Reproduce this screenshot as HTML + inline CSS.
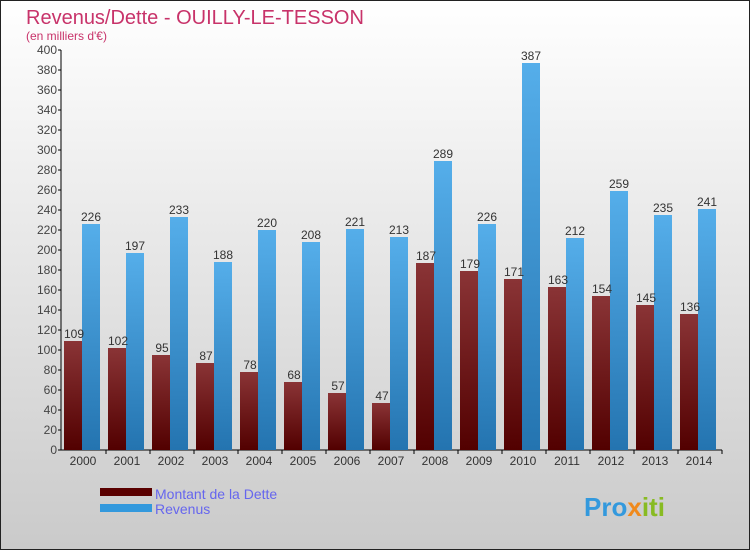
<!DOCTYPE html>
<html><head><meta charset="utf-8"><style>
body{margin:0}
#c{width:750px;height:550px;position:relative;font-family:"Liberation Sans",sans-serif}
</style></head><body>
<div id="c">
<svg id="s" width="750" height="550" xmlns="http://www.w3.org/2000/svg">
<defs>
<linearGradient id="bg" x1="0" y1="0" x2="0" y2="1"><stop offset="0" stop-color="#ffffff"/><stop offset="1" stop-color="#cacaca"/></linearGradient>
<linearGradient id="gd" x1="0" y1="0" x2="0" y2="1"><stop offset="0" stop-color="#8a3436"/><stop offset="1" stop-color="#520000"/></linearGradient>
<linearGradient id="gr" x1="0" y1="0" x2="0" y2="1"><stop offset="0" stop-color="#55aeea"/><stop offset="1" stop-color="#2474b0"/></linearGradient>
</defs>
<rect x="0.5" y="0.5" width="749" height="549" fill="url(#bg)" stroke="#222"/>
<text x="26" y="24" font-size="20" fill="#c8336a">Revenus/Dette - OUILLY-LE-TESSON</text>
<text x="26" y="40" font-size="12" fill="#c8336a">(en milliers d'€)</text>
<g id="axes"></g>
<g id="bars"></g>
<g>
<rect x="100" y="488" width="52" height="8" fill="#5a0000"/>
<text x="155" y="499" font-size="14" fill="#6666ee">Montant de la Dette</text>
<rect x="100" y="504" width="52" height="8" fill="#3399dd"/>
<text x="155" y="514" font-size="14" fill="#6666ee">Revenus</text>
</g>
<text x="584" y="516" font-size="26" font-weight="bold" fill="#3399dd">Pro<tspan fill="#f08a1c">x</tspan><tspan fill="#88bb22">iti</tspan></text>
</svg>
</div>
<script>
const years=["2000","2001","2002","2003","2004","2005","2006","2007","2008","2009","2010","2011","2012","2013","2014"];
const dette=[109,102,95,87,78,68,57,47,187,179,171,163,154,145,136];
const revenus=[226,197,233,188,220,208,221,213,289,226,387,212,259,235,241];
const ticks=[0,20,40,60,80,100,120,140,160,180,200,220,240,260,280,300,320,340,360,380,400];
const NS="http://www.w3.org/2000/svg";
const x0=62,gw=44,bw=18,y0=450,yMax=400,ph=400;
const y=v=>y0-v/yMax*ph;
const gx=i=>x0+i*gw;
function mk(t,a,p){const e=document.createElementNS(NS,t);for(const k in a)e.setAttribute(k,a[k]);p.appendChild(e);return e;}
const ax=document.getElementById('axes'),bs=document.getElementById('bars');
const yl=mk('line',{x1:x0-1,y1:y0,x2:x0-1,y2:y(400),stroke:'#000'},ax);


const xl=mk('line',{x1:x0-1,y1:y0,x2:x0+years.length*gw,y2:y0,stroke:'#000'},ax);


ticks.forEach(t=>{
 mk('line',{x1:x0-4,y1:y(t),x2:x0-1,y2:y(t),stroke:'#000'},ax);
 const tx=mk('text',{x:x0-5,y:y(t)+4,'font-size':12,'text-anchor':'end',fill:'#444'},ax);
 tx.textContent=t;
 
 
});
years.forEach((yr,i)=>{
 const cx=gx(i)+gw/2;
 mk('line',{x1:gx(i+1),y1:y0,x2:gx(i+1),y2:y0+4,stroke:'#000'},ax);
 const tx=mk('text',{x:cx-1,y:y0+15,'font-size':12,'text-anchor':'middle',fill:'#333'},ax);
 tx.textContent=yr;
 
 
 const b1=mk('rect',{x:gx(i)+2,y:y(dette[i]),width:bw,height:y0-y(dette[i]),fill:'url(#gd)'},bs);
 
 
 const b2=mk('rect',{x:gx(i)+2+bw,y:y(revenus[i]),width:bw,height:y0-y(revenus[i]),fill:'url(#gr)'},bs);
 
 
 const l1=mk('text',{x:gx(i)+2+bw/2+1,y:y(dette[i])-3,'font-size':12,'text-anchor':'middle',fill:'#333'},bs);
 l1.textContent=dette[i];
 
 
 const l2=mk('text',{x:gx(i)+2+bw*1.5,y:y(revenus[i])-3,'font-size':12,'text-anchor':'middle',fill:'#333'},bs);
 l2.textContent=revenus[i];
 
 
});
</script>
</body></html>
